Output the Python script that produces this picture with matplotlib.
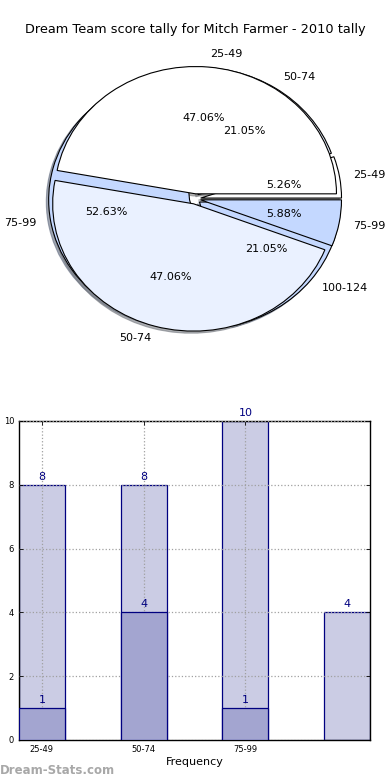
import numpy as np
import matplotlib
matplotlib.use('Agg')
import matplotlib.pyplot as plt

# data
title = 'Dream Team score tally for Mitch Farmer - 2010 tally'
pie_a_labels = ['25-49', '50-74', '75-99']
pie_a_values = [8, 8, 1]
pie_b_labels = ['25-49', '50-74', '75-99', '100-124']
pie_b_values = [1, 4, 10, 4]

bar_ticks = ['25-49', '50-74', '75-99']
bar_light = [8, 8, 10, 4]
bar_dark = [1, 4, 1]

# colours
col_white = '#ffffff'
col_pale = '#eaf1ff'
col_blue = '#c4d8ff'
light_fill = '#cbcce4'
dark_fill = '#a3a5d0'
edge = '#000080'

fig = plt.figure(figsize=(3.9, 7.8), dpi=100)
fig.text(0.5, 1 - 30 / 780, title, ha='center', va='center', fontsize=9.3)

# pie (two pies on the same axes, no equal aspect)
shadow = dict(ox=-0.012, oy=-0.012, shade=0.5, alpha=0.6)
ax1 = fig.add_axes([0.0487, 0.541, 0.903, 0.408])
ax1.pie(pie_b_values, labels=pie_b_labels, autopct='%1.2f%%',
        colors=[col_white, col_pale, col_blue, col_blue],
        explode=[0.04] * len(pie_b_values), shadow=shadow,
        wedgeprops=dict(edgecolor='black', linewidth=0.8),
        textprops=dict(fontsize=8))
ax1.pie(pie_a_values, labels=pie_a_labels, autopct='%1.2f%%',
        colors=[col_white, col_pale, col_blue],
        explode=[0.04] * len(pie_a_values), shadow=shadow,
        wedgeprops=dict(edgecolor='black', linewidth=0.8),
        textprops=dict(fontsize=8))
ax1.set_aspect('auto')
ax1.set_xlim(-1.25, 1.25)
ax1.set_ylim(-1.25, 1.25)
ax1.axis('off')

# bars
ax2 = fig.add_axes([0.0487, 0.0513, 0.9, 0.409])
x_light = np.arange(len(bar_light))
x_dark = np.arange(len(bar_dark))
w = 0.45
ax2.bar(x_light, bar_light, width=w, align='edge', color=light_fill,
        edgecolor=edge, linewidth=0.9, zorder=2)
ax2.bar(x_dark, bar_dark, width=w, align='edge', color=dark_fill,
        edgecolor=edge, linewidth=0.9, zorder=3)
for xi, v in zip(x_light, bar_light):
    ax2.text(xi + w / 2, v + 0.1, str(v), ha='center', va='bottom',
             color=edge, fontsize=8, zorder=5)
for xi, v in zip(x_dark, bar_dark):
    ax2.text(xi + w / 2, v + 0.1, str(v), ha='center', va='bottom',
             color=edge, fontsize=8, zorder=5)

ax2.set_xlim(0, 3.45)
ax2.set_ylim(0, 10)
ax2.set_xticks(x_dark + w / 2)
ax2.set_xticklabels(bar_ticks)
ax2.set_yticks(np.arange(0, 11, 2))
ax2.tick_params(direction='in', top=True, right=True, labelsize=6,
                length=3, width=0.6)
ax2.grid(True, linestyle=':', color='#a0a0a0', linewidth=0.9, zorder=4)
ax2.set_axisbelow(False)
ax2.set_xlabel('Frequency', fontsize=8, labelpad=2)
for spine in ax2.spines.values():
    spine.set_linewidth(1)

fig.text(0.0, 10 / 780, 'Dream-Stats.com', ha='left', va='center',
         fontsize=8.5, fontweight='bold', color='#a8a8a8')

plt.savefig('out.png', dpi=100)
